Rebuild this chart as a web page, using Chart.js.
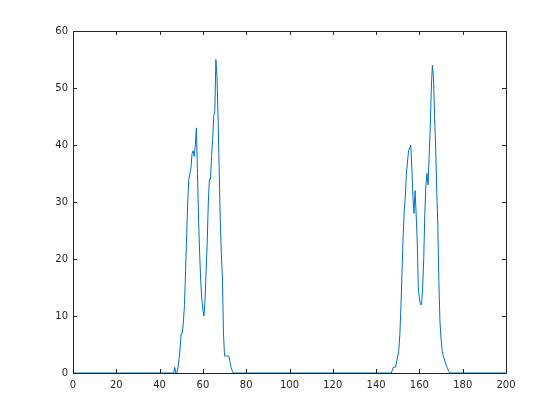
<!DOCTYPE html>
<html>
<head>
<meta charset="utf-8">
<script src="https://cdn.jsdelivr.net/npm/chart.js@4/dist/chart.umd.min.js"></script>
<style>
  html, body { margin: 0; padding: 0; background: #fff; }
  #wrap { width: 560px; height: 420px; }
</style>
</head>
<body>
<div id="wrap"><canvas id="plot" width="560" height="420"></canvas></div>
<script>
// x positions (0.5 steps inside the two peaks)
const xValues = [
  0, 46, 46.5, 47, 47.5, 48, 48.5, 49, 49.5, 50, 50.5, 51, 51.5, 52, 52.5, 53, 53.5, 54, 54.5,
  55, 55.5, 56, 56.5, 57, 57.5, 58, 58.5, 59, 59.5, 60, 60.5, 61, 61.5, 62, 62.5, 63, 63.5,
  64, 64.5, 65, 65.5, 66, 66.5, 67, 67.5, 68, 68.5, 69, 69.5, 70, 70.5, 71, 71.5, 72, 72.5,
  73, 73.5, 74,
  147, 147.5, 148, 148.5, 149, 149.5, 150, 150.5, 151, 151.5, 152, 152.5, 153, 153.5, 154,
  154.5, 155, 155.5, 156, 156.5, 157, 157.5, 158, 158.5, 159, 159.5, 160, 160.5, 161, 161.5,
  162, 162.5, 163, 163.5, 164, 164.5, 165, 165.5, 166, 166.5, 167, 167.5, 168, 168.5, 169,
  169.5, 170, 170.5, 171, 171.5, 172, 172.5, 173, 173.5, 174, 200
];
const yValues = [
  0, 0, 0, 1, 0, 0, 1, 2.5, 4.5, 7, 7, 9, 12, 18, 24, 30, 34, 35, 36,
  38.5, 39, 38, 40, 43, 35, 27, 21, 16, 13, 11, 10, 13, 18, 23, 30, 34, 34,
  38, 41, 45, 46, 55, 52, 45, 36, 27, 21, 17, 7, 3, 3, 3, 3, 3, 2,
  1, 0.5, 0,
  0, 0.5, 1, 1, 1, 2, 3, 4, 7, 12, 18, 24, 28.5, 31, 35,
  37, 39, 39.5, 40, 36, 31, 28, 32, 28, 23, 15, 13, 12, 12, 15,
  20, 28, 33, 35, 33, 38, 43, 50, 54, 52, 45, 40, 32, 26, 16,
  9, 6, 4, 3, 2.5, 1.8, 1.2, 0.8, 0.3, 0, 0
];
const xTicks = [0, 20, 40, 60, 80, 100, 120, 140, 160, 180, 200];
const yTicks = [0, 10, 20, 30, 40, 50, 60];

const axisColor = '#262626';
const tickFont = { family: 'DejaVu Sans', size: 10 };

// MATLAB style box with inward ticks on all four sides
const boxTicks = {
  id: 'boxTicks',
  afterDraw(chart) {
    const { ctx, chartArea: a, scales } = chart;
    ctx.save();
    ctx.strokeStyle = axisColor;
    ctx.lineWidth = 1;
    ctx.beginPath();
    ctx.rect(a.left + 0.5, a.top + 0.5, a.right - a.left, a.bottom - a.top);
    const len = 4;
    xTicks.forEach(v => {
      const px = Math.round(scales.x.getPixelForValue(v)) + 0.5;
      ctx.moveTo(px, a.bottom); ctx.lineTo(px, a.bottom - len);
      ctx.moveTo(px, a.top); ctx.lineTo(px, a.top + len);
    });
    yTicks.forEach(v => {
      const py = Math.round(scales.y.getPixelForValue(v)) + 0.5;
      ctx.moveTo(a.left, py); ctx.lineTo(a.left + len, py);
      ctx.moveTo(a.right, py); ctx.lineTo(a.right - len, py);
    });
    ctx.stroke();
    ctx.restore();
  }
};

new Chart(document.getElementById('plot').getContext('2d'), {
  type: 'line',
  data: {
    datasets: [{
      data: xValues.map((x, i) => ({ x, y: yValues[i] })),
      borderColor: '#0072BD',
      borderWidth: 1,
      pointRadius: 0,
      tension: 0,
      fill: false
    }]
  },
  options: {
    responsive: false,
    animation: false,
    layout: { padding: { left: 0, top: 31, right: 54, bottom: 0 } },
    plugins: { legend: { display: false }, tooltip: { enabled: false } },
    scales: {
      x: {
        type: 'linear', min: 0, max: 200,
        afterBuildTicks: s => { s.ticks = xTicks.map(v => ({ value: v })); },
        afterFit: s => { s.height = 47; },
        grid: { display: false, drawTicks: false },
        border: { display: false },
        ticks: { color: axisColor, font: tickFont, padding: 6, maxRotation: 0 }
      },
      y: {
        type: 'linear', min: 0, max: 60,
        afterBuildTicks: s => { s.ticks = yTicks.map(v => ({ value: v })); },
        afterFit: s => { s.width = 73; },
        grid: { display: false, drawTicks: false },
        border: { display: false },
        ticks: { color: axisColor, font: tickFont, padding: 5 }
      }
    }
  },
  plugins: [boxTicks]
});
</script>
</body>
</html>
